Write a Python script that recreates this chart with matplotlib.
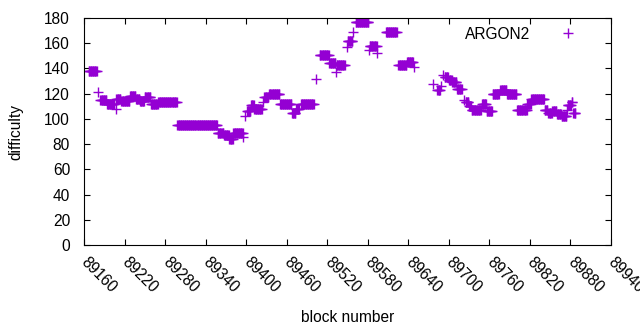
import numpy as np
import matplotlib
matplotlib.use("Agg")
import matplotlib.pyplot as plt

##~~~~~~~~ Data: runs of blocks with the same difficulty ~~~~~~~~
run_start = [89167, 89181, 89184, 89194, 89207, 89208, 89215, 89228, 89237, 89243,
             89250, 89259, 89270, 89298, 89358, 89367, 89375, 89381, 89396, 89398,
             89401, 89407, 89412, 89425, 89427, 89434, 89450, 89468, 89474, 89481,
             89504, 89509, 89523, 89533, 89534, 89549, 89550, 89558, 89562, 89582,
             89583, 89594, 89607, 89625, 89638, 89648, 89677, 89683, 89688, 89692,
             89694, 89700, 89705, 89712, 89722, 89725, 89730, 89734, 89749, 89756,
             89765, 89776, 89786, 89801, 89816, 89822, 89842, 89847, 89853, 89860,
             89867, 89875, 89876, 89882, 89884]
run_end   = [89179, 89181, 89193, 89205, 89207, 89214, 89227, 89236, 89242, 89249,
             89258, 89269, 89297, 89357, 89366, 89374, 89380, 89395, 89396, 89398,
             89406, 89411, 89423, 89425, 89433, 89449, 89467, 89473, 89478, 89500,
             89504, 89522, 89532, 89533, 89546, 89549, 89557, 89558, 89581, 89582,
             89593, 89594, 89623, 89637, 89647, 89648, 89677, 89687, 89688, 89692,
             89699, 89704, 89711, 89719, 89722, 89729, 89733, 89747, 89755, 89764,
             89774, 89785, 89800, 89815, 89821, 89841, 89846, 89852, 89859, 89866,
             89874, 89875, 89881, 89883, 89887]
run_diff  = [138, 121, 115, 112, 108, 116, 114, 118, 116, 114,
             117, 112, 113, 95, 89, 87, 84, 89, 86, 102,
             106, 111, 108, 113, 117, 120, 112, 105, 108, 112,
             132, 151, 144, 137, 143, 157, 162, 169, 177, 155,
             158, 152, 169, 143, 145, 141, 128, 123, 126, 135,
             133, 131, 129, 124, 115, 113, 110, 107, 112, 106,
             120, 123, 120, 107, 112, 116, 107, 105, 106, 104,
             102, 107, 111, 113, 105]

xticks = np.arange(89160, 89941, 60)
yticks = np.arange(0, 181, 20)
##~~~~~~~~~~~~~~~~~~~~~~~~~~~~~~~~~~~~~~~~~~~~~~~~~~~~~~~~~~~~~~~

blocks = np.concatenate([np.arange(s, e + 1) for s, e in zip(run_start, run_end)])
diffs = np.concatenate([np.full(e - s + 1, d) for s, e, d in zip(run_start, run_end, run_diff)])

fs = 11.2
plt.rcParams['font.family'] = ['Liberation Sans', 'DejaVu Sans']
plt.rcParams['font.size'] = fs

fig = plt.figure(figsize=(6.4, 3.3), dpi=100)
ax = fig.add_axes([84/640, 1 - 245/330, (611 - 84)/640, (245 - 18)/330])

ax.plot(blocks, diffs, '+', color='#9400d3', markersize=6.5, mew=1.0, label='ARGON2')

ax.set_xlim(89160, 89940)
ax.set_ylim(0, 180)
ax.set_xticks(xticks)
ax.set_yticks(yticks)
ax.set_xticklabels([str(t) for t in xticks], rotation=-45, ha='left', va='center',
                   rotation_mode='anchor')
ax.tick_params(direction='in', length=4.5, width=0.8, top=True, right=True,
               colors='black', labelsize=fs)
ax.tick_params(axis='x', pad=11)
ax.tick_params(axis='y', pad=10)
for sp in ax.spines.values():
    sp.set_linewidth(0.8)

ax.set_xlabel('block number', labelpad=10)
ax.set_ylabel('difficulty', labelpad=15)

ax.legend(loc='upper right', markerfirst=False, frameon=False, handlelength=3.0,
          handletextpad=0.9, borderaxespad=0.0, borderpad=0.55,
          bbox_to_anchor=(0.978, 1.0), fontsize=fs)

fig.savefig('out.png', dpi=100)
